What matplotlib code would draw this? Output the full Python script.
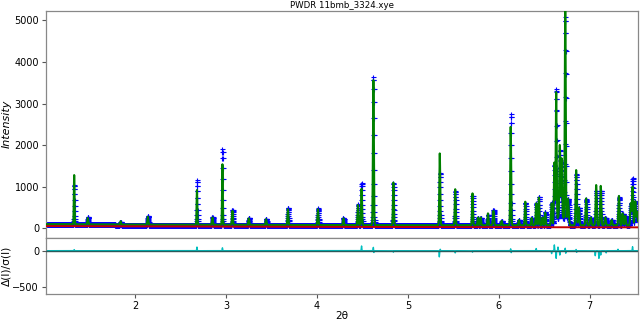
import numpy as np
import matplotlib
matplotlib.use("Agg")
import matplotlib.pyplot as plt

# ---------------- data ----------------
title = "PWDR 11bmb_3324.xye"

# Bragg peaks: position (2theta), calculated total height, observed total height, width (sigma)
peak_pos = [1.33, 1.48, 1.84, 2.14, 2.68, 2.85, 2.96, 3.07, 3.25, 3.44, 3.68, 4.01, 4.29,
            4.45, 4.49, 4.62, 4.84, 5.35, 5.52, 5.71, 5.77, 5.80, 5.88, 5.94, 6.03, 6.13,
            6.22, 6.29, 6.36, 6.41, 6.44, 6.48, 6.51, 6.58, 6.61, 6.63, 6.67, 6.69, 6.73,
            6.76, 6.85, 6.88, 6.96, 7.01, 7.07, 7.12, 7.17, 7.24, 7.32, 7.36, 7.39, 7.45,
            7.47, 7.50, 7.52]
peak_calc = [1280, 250, 170, 280, 920, 260, 1540, 420, 240, 220, 460, 460, 240,
             560, 950, 3560, 1100, 1800, 940, 840, 260, 260, 360, 420, 180, 2440,
             200, 640, 250, 600, 740, 260, 380, 600, 1560, 3200, 1720, 1400, 5400,
             700, 1400, 500, 720, 260, 1040, 1020, 260, 200, 780, 360, 300, 600,
             1000, 650, 400]
peak_obs = [1050, 270, 150, 300, 1150, 270, 1900, 440, 250, 225, 500, 480, 240,
            580, 1090, 3630, 1080, 1330, 900, 780, 250, 250, 330, 440, 180, 2740,
            200, 620, 250, 600, 760, 260, 400, 620, 1500, 3280, 1600, 1300, 5000,
            700, 1300, 500, 700, 260, 900, 900, 260, 200, 750, 350, 300, 600,
            1200, 650, 400]
peak_sig = [0.004, 0.005, 0.004, 0.005, 0.004, 0.005, 0.004, 0.005, 0.005, 0.005, 0.005, 0.005, 0.005,
            0.005, 0.005, 0.005, 0.005, 0.005, 0.005, 0.005, 0.005, 0.005, 0.005, 0.006, 0.005, 0.005,
            0.005, 0.005, 0.005, 0.005, 0.005, 0.005, 0.005, 0.006, 0.005, 0.005, 0.005, 0.005, 0.005,
            0.008, 0.006, 0.006, 0.006, 0.006, 0.006, 0.006, 0.006, 0.006, 0.006, 0.006, 0.006, 0.006,
            0.006, 0.006, 0.006]

# broad hump under the 6.6-6.75 cluster
hump_pos = [6.68]
hump_h = [300]
hump_sig = [0.03]

# observed/calculated baseline level and refined background (knots)
base_x = [1.02, 2.0, 3.0, 4.0, 5.0, 6.0, 7.0, 7.53]
base_y = [100, 90, 85, 80, 75, 75, 75, 75]
bkg_x = [1.02, 2.0, 3.0, 4.0, 5.0, 6.0, 7.0, 7.53]
bkg_y = [55, 48, 42, 36, 32, 28, 25, 24]

# residual spikes (position, amplitude) in delta(I)/sigma(I)
res_pos = [1.33, 2.68, 2.96, 4.49, 4.62, 4.625, 4.84, 5.345, 5.355, 5.52, 5.71, 6.13, 6.135,
           6.41, 6.58, 6.61, 6.63, 6.65, 6.67, 6.73, 6.735, 6.85, 6.855, 7.06, 7.10, 7.12, 7.18,
           7.31, 7.47]
res_amp = [15, 50, 40, 65, 50, -30, -20, -85, 20, -30, -20, 30, -30,
           30, -40, 80, -105, 50, -60, 40, -40, 20, -25, -69, -105, -60, -30,
           20, 55]

# ---------------- build profiles ----------------
tth = np.arange(1.02, 7.53, 0.001)
baseline = np.interp(tth, base_x, base_y)
calc = baseline.copy()
obs = baseline.copy()
for p, hc, ho, s in zip(peak_pos, peak_calc, peak_obs, peak_sig):
    g = np.exp(-0.5 * ((tth - p) / s) ** 2)
    calc += (hc - np.interp(p, base_x, base_y)) * g
    obs += (ho - np.interp(p, base_x, base_y)) * g
for p, h, s in zip(hump_pos, hump_h, hump_sig):
    g = np.exp(-0.5 * ((tth - p) / s) ** 2)
    calc += h * g
    obs += h * g
resid = np.zeros_like(tth)
for p, a in zip(res_pos, res_amp):
    resid += a * np.exp(-0.5 * ((tth - p) / 0.0025) ** 2)

# ---------------- plot ----------------
plt.rcParams['font.family'] = ['DejaVu Sans']
fig = plt.figure(figsize=(6.4, 3.21), dpi=100)
W, H = 640.0, 321.0
L, R = 46 / W, 638 / W
ax = fig.add_axes([L, 1 - 237.7 / H, R - L, (237.7 - 10.5) / H])
ax2 = fig.add_axes([L, 1 - 294.3 / H, R - L, (294.3 - 237.7) / H], sharex=ax)

ax.plot(tth, obs, '+', color='b', markersize=3.6, markeredgewidth=0.8, zorder=2)
ax.plot(tth, calc, '-', color='g', lw=1.5, zorder=3)
ax.plot(bkg_x, bkg_y, '-', color='#c00000', lw=1.4, zorder=4)
ax.set_ylim(-225, 5235)
ax.set_xlim(1.02, 7.53)
ax.set_yticks([0, 1000, 2000, 3000, 4000, 5000])
ax.set_ylabel('Intensity', fontstyle='italic', fontsize=8, labelpad=2)
ax.set_title(title, fontsize=6.2, pad=2)
ax.tick_params(axis='x', which='both', bottom=False, labelbottom=False)

ax2.plot(tth, resid, '-', color='c', lw=1.0, zorder=2)
ax2.axhline(0, color='#2a5a5a', lw=1.0, zorder=3)
ax2.set_ylim(-600, 179)
ax2.set_yticks([0, -500])
ax2.set_xticks([2, 3, 4, 5, 6, 7])
ax2.set_ylabel('Δ(I)/σ(I)', fontsize=7.7, labelpad=1)
ax2.set_xlabel('2θ', fontsize=7.6, labelpad=0)

for a in (ax, ax2):
    for sp in a.spines.values():
        sp.set_color('#888888')
        sp.set_linewidth(0.9)
    a.tick_params(labelsize=7, length=3, width=0.8, color='#555555', pad=2)

fig.savefig('out.png', dpi=100)
